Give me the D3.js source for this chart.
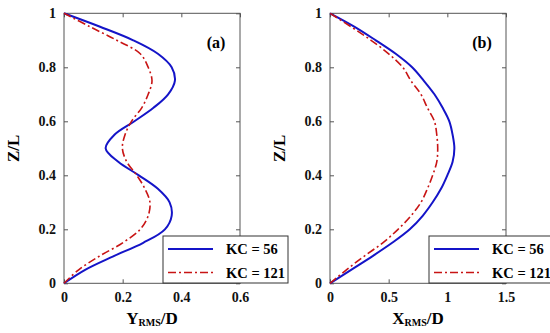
<!DOCTYPE html>
<html><head><meta charset="utf-8">
<script src="https://cdn.jsdelivr.net/npm/d3@7"></script>
<style>body{margin:0;background:#fff}svg{display:block}</style>
</head><body><svg id="c" width="550" height="333"></svg>
<script>
const zLevels = [0,0.05,0.1,0.15,0.2,0.25,0.3,0.35,0.4,0.45,0.5,0.55,0.6,0.65,0.7,0.75,0.8,0.85,0.9,0.95,1];
const yrmsKC56  = [0,0.072,0.168,0.27,0.344,0.367,0.36,0.32,0.255,0.185,0.142,0.172,0.24,0.305,0.355,0.378,0.367,0.32,0.236,0.123,0];
const yrmsKC121 = [0,0.05,0.12,0.2,0.26,0.287,0.293,0.276,0.248,0.214,0.199,0.208,0.23,0.265,0.287,0.3,0.287,0.26,0.18,0.089,0];
const xrmsKC56  = [0,0.18,0.36,0.53,0.68,0.79,0.875,0.946,1.0,1.045,1.06,1.045,1.017,0.96,0.89,0.8,0.7,0.56,0.39,0.21,0];
const xrmsKC121 = [0,0.14,0.29,0.45,0.58,0.69,0.775,0.83,0.875,0.91,0.918,0.91,0.89,0.83,0.775,0.69,0.62,0.5,0.35,0.18,0];
const yTicks = [0,0.2,0.4,0.6,0.8,1];
const xTicksA = [0,0.2,0.4,0.6];
const xTicksB = [0,0.5,1,1.5];
const seriesNames = ["KC = 56","KC = 121"];

const svg = d3.select("#c");
const font = "'Liberation Serif','Times New Roman',serif";
const colors = ["#1414c8","#c81414"];
const dashes = [null,"8,3,2,3"];

function panel(left, xmax, xTicks, s1, s2, tag, sym) {
  const top=13.3, bottom=283.3, w=176;
  const x = d3.scaleLinear().domain([0,xmax]).range([left,left+w]);
  const y = d3.scaleLinear().domain([0,1]).range([bottom,top]);
  const g = svg.append("g");
  const tl=4;
  const tf = d=> d===0?"0":(d===1?"1":d3.format("")(d));
  const ax = g.append("g").attr("transform",`translate(0,${bottom})`)
    .call(d3.axisBottom(x).tickValues(xTicks).tickSize(-tl).tickPadding(9).tickFormat(tf));
  const axT = g.append("g").attr("transform",`translate(0,${top})`)
    .call(d3.axisTop(x).tickValues(xTicks).tickSize(-tl).tickFormat(""));
  const ay = g.append("g").attr("transform",`translate(${left},0)`)
    .call(d3.axisLeft(y).tickValues(yTicks).tickSize(-tl).tickPadding(8).tickFormat(tf));
  const ayR = g.append("g").attr("transform",`translate(${left+w},0)`)
    .call(d3.axisRight(y).tickValues(yTicks).tickSize(-tl).tickFormat(""));
  [ax,axT,ay,ayR].forEach(a=>{
    a.select(".domain").remove();
    a.selectAll("line").attr("stroke","#555");
    a.selectAll("text").attr("font-family",font).attr("font-weight","bold").attr("font-size",14).attr("fill","#111");
  });
  g.append("rect").attr("x",left).attr("y",top).attr("width",w).attr("height",bottom-top)
    .attr("fill","none").attr("stroke","#555").attr("stroke-width",1);
  const line = d3.line().x(d=>x(d[0])).y(d=>y(d[1])).curve(d3.curveCatmullRom.alpha(0.5));
  [s1,s2].forEach((s,i)=>{
    g.append("path").datum(s.map((v,j)=>[v,zLevels[j]])).attr("d",line)
      .attr("fill","none").attr("stroke",colors[i]).attr("stroke-width",i===0?2:1.6)
      .attr("stroke-dasharray",dashes[i]);
  });
  g.append("text").attr("x",left+w-24).attr("y",48).attr("text-anchor","middle")
    .attr("font-family",font).attr("font-weight","bold").attr("font-size",16).text(tag);
  g.append("text").attr("transform",`translate(${left-45},${(top+bottom)/2}) rotate(-90)`)
    .attr("text-anchor","middle").attr("font-family",font).attr("font-weight","bold").attr("font-size",17).text("Z/L");
  const xl = g.append("text").attr("x",left+w/2).attr("y",324).attr("text-anchor","middle")
    .attr("font-family",font).attr("font-weight","bold").attr("font-size",17);
  xl.append("tspan").text(sym);
  xl.append("tspan").attr("font-size",10).attr("dy",2).text("RMS");
  xl.append("tspan").attr("dy",-2).text("/D");
  const lx = left+99, ly=236, lw=125, lh=47;
  const lg = g.append("g");
  lg.append("rect").attr("x",lx).attr("y",ly).attr("width",lw).attr("height",lh)
    .attr("fill","#fff").attr("stroke","#333").attr("stroke-width",1);
  seriesNames.forEach((n,i)=>{
    const yy = ly+13+i*23.5;
    lg.append("line").attr("x1",lx+5).attr("x2",lx+50).attr("y1",yy).attr("y2",yy)
      .attr("stroke",colors[i]).attr("stroke-width",i===0?2:1.6).attr("stroke-dasharray",dashes[i]);
    lg.append("text").attr("x",lx+63).attr("y",yy+5).attr("font-family",font).attr("font-weight","bold")
      .attr("font-size",14.5).text(n);
  });
}
panel(64,0.6,xTicksA,yrmsKC56,yrmsKC121,"(a)","Y");
panel(330,1.5,xTicksB,xrmsKC56,xrmsKC121,"(b)","X");
</script></body></html>
